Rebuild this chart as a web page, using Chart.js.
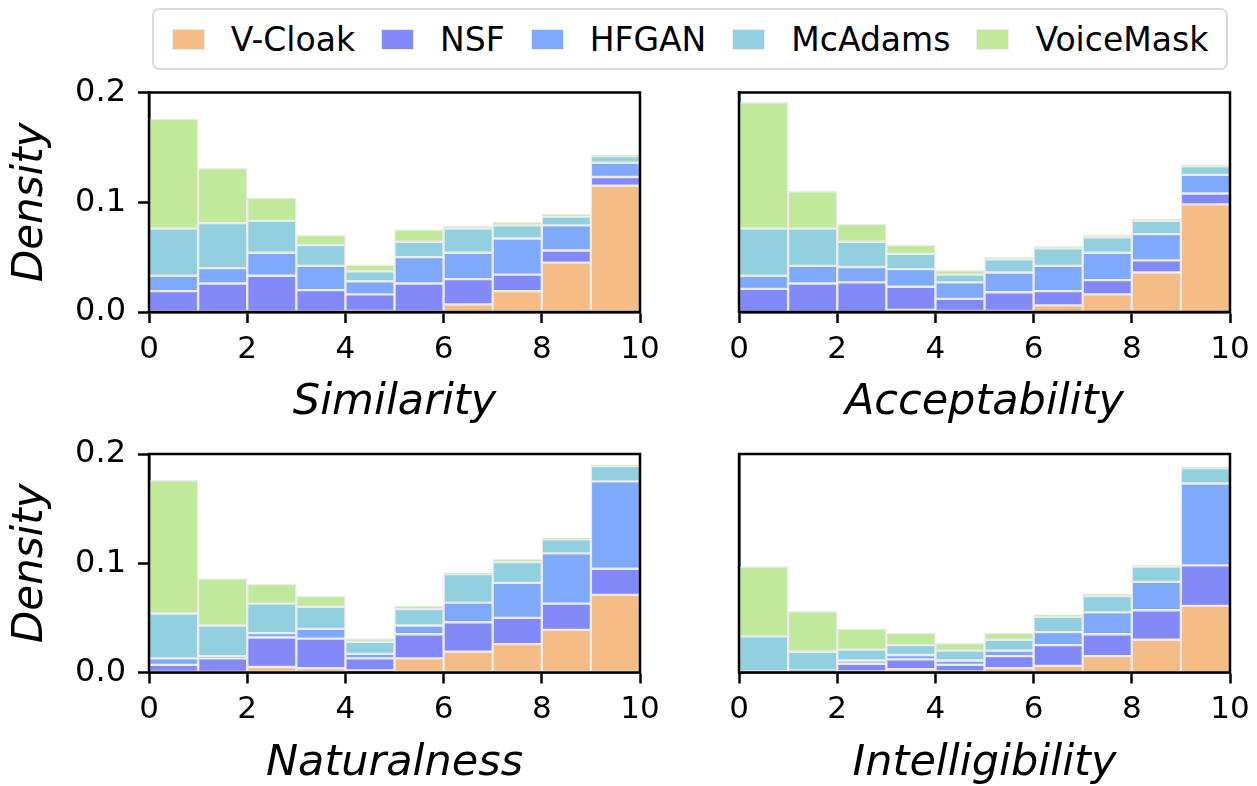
<!DOCTYPE html>
<html>
<head>
<meta charset="utf-8">
<script src="https://cdn.jsdelivr.net/npm/chart.js@4.4.1/dist/chart.umd.min.js"></script>
<style>
  html, body { margin: 0; padding: 0; background: #ffffff; }
  #page { position: relative; width: 1257px; height: 786px; overflow: hidden; background: #ffffff; }
  #page canvas { position: absolute; left: 0; top: 0; }
  #legend {
    position: absolute; left: 152px; top: 8px; width: 1072px; height: 58px;
    border: 2px solid #dcdcdc; border-radius: 7px; box-sizing: content-box;
    display: flex; align-items: center; justify-content: center;
    font-family: "DejaVu Sans", sans-serif; font-size: 33px; color: #000;
  }
  .item { display: flex; align-items: center; margin: 0 13px; }
  .swatch { width: 31px; height: 19px; border: 1.5px solid #ebebeb; margin-right: 26px; }
</style>
</head>
<body>
<div id="page">
  <div id="legend"></div>
</div>
<script>
// Histogram bins (score 0..10, width 1)
const binEdges = [0, 1, 2, 3, 4, 5, 6, 7, 8, 9, 10];
const xTicks = [0, 2, 4, 6, 8, 10];
const yTicks = [0.0, 0.1, 0.2];

const seriesNames = ['V-Cloak', 'NSF', 'HFGAN', 'McAdams', 'VoiceMask'];
const seriesColors = ['#f5bc86', '#8489f9', '#7faafb', '#92d0e0', '#c1e99c'];

// Stacked densities per bin, one row per series (in seriesNames order)
const similarity = [
  [0.000, 0.000, 0.000, 0.000, 0.001, 0.000, 0.007, 0.019, 0.045, 0.115],
  [0.019, 0.026, 0.033, 0.020, 0.015, 0.026, 0.023, 0.015, 0.011, 0.008],
  [0.014, 0.014, 0.021, 0.022, 0.012, 0.024, 0.024, 0.033, 0.023, 0.013],
  [0.043, 0.041, 0.029, 0.019, 0.009, 0.014, 0.022, 0.012, 0.008, 0.006],
  [0.100, 0.050, 0.021, 0.009, 0.006, 0.011, 0.002, 0.003, 0.002, 0.001]
];
const acceptability = [
  [0.000, 0.000, 0.000, 0.002, 0.001, 0.001, 0.006, 0.016, 0.036, 0.098],
  [0.021, 0.026, 0.027, 0.021, 0.011, 0.017, 0.013, 0.013, 0.011, 0.010],
  [0.012, 0.016, 0.014, 0.016, 0.015, 0.018, 0.023, 0.025, 0.024, 0.017],
  [0.043, 0.034, 0.023, 0.014, 0.007, 0.012, 0.016, 0.014, 0.012, 0.008],
  [0.115, 0.034, 0.016, 0.008, 0.004, 0.002, 0.002, 0.002, 0.002, 0.001]
];
const naturalness = [
  [0.000, 0.000, 0.005, 0.004, 0.002, 0.013, 0.019, 0.026, 0.039, 0.071],
  [0.007, 0.013, 0.027, 0.027, 0.011, 0.022, 0.027, 0.024, 0.024, 0.024],
  [0.006, 0.002, 0.004, 0.009, 0.004, 0.008, 0.018, 0.032, 0.046, 0.080],
  [0.041, 0.028, 0.027, 0.020, 0.011, 0.015, 0.026, 0.019, 0.013, 0.014],
  [0.122, 0.043, 0.018, 0.010, 0.003, 0.003, 0.001, 0.003, 0.001, 0.001]
];
const intelligibility = [
  [0.000, 0.000, 0.001, 0.003, 0.001, 0.004, 0.006, 0.015, 0.030, 0.061],
  [0.001, 0.001, 0.007, 0.009, 0.006, 0.011, 0.019, 0.020, 0.027, 0.037],
  [0.000, 0.001, 0.003, 0.004, 0.004, 0.005, 0.012, 0.020, 0.026, 0.075],
  [0.032, 0.017, 0.010, 0.009, 0.009, 0.010, 0.014, 0.015, 0.014, 0.014],
  [0.064, 0.037, 0.019, 0.011, 0.007, 0.006, 0.002, 0.002, 0.001, 0.001]
];

const W = 1257, H = 786;
Chart.defaults.font.family = '"DejaVu Sans", sans-serif';
Chart.defaults.color = '#000';

// Legend row
const legendEl = document.getElementById('legend');
seriesNames.forEach((name, i) => {
  const item = document.createElement('div');
  item.className = 'item';
  const sw = document.createElement('div');
  sw.className = 'swatch';
  sw.style.background = seriesColors[i];
  const label = document.createElement('span');
  label.textContent = name;
  item.appendChild(sw);
  item.appendChild(label);
  legendEl.appendChild(item);
});

// Black frame around the plotting area
const framePlugin = {
  id: 'frame',
  afterDraw(chart) {
    const a = chart.chartArea, ctx = chart.ctx;
    ctx.save();
    ctx.strokeStyle = '#000';
    ctx.lineWidth = 2.5;
    ctx.strokeRect(a.left, a.top, a.right - a.left, a.bottom - a.top);
    ctx.restore();
  }
};

function panel(rows, xTitle, area, showY) {
  const canvas = document.createElement('canvas');
  canvas.width = W; canvas.height = H;
  document.getElementById('page').appendChild(canvas);

  const yWidth = showY ? area.left : 10;
  const xHeight = area.xHeight;
  const datasets = seriesNames.map((name, s) => ({
    label: name,
    data: rows[s].map((v, b) => ({ x: (binEdges[b] + binEdges[b + 1]) / 2, y: v })),
    backgroundColor: seriesColors[s],
    borderColor: '#ebebeb',
    borderWidth: 1.5,
    borderSkipped: false,
    barPercentage: 1,
    categoryPercentage: 1
  }));

  new Chart(canvas, {
    type: 'bar',
    data: { datasets },
    options: {
      responsive: false,
      animation: false,
      devicePixelRatio: 1,
      layout: {
        padding: {
          left: area.left - yWidth,
          top: area.top,
          right: W - area.right,
          bottom: H - area.bottom - xHeight
        }
      },
      plugins: { legend: { display: false }, tooltip: { enabled: false } },
      scales: {
        x: {
          type: 'linear', stacked: true, min: binEdges[0], max: binEdges[binEdges.length - 1],
          offset: false,
          afterBuildTicks(scale) { scale.ticks = xTicks.map(v => ({ value: v })); },
          afterFit(scale) { scale.height = xHeight; scale.paddingLeft = 0; scale.paddingRight = 0; },
          ticks: { font: { size: 31 }, padding: 8, maxRotation: 0, autoSkip: false, color: '#000' },
          grid: { display: true, offset: false, drawOnChartArea: false, drawTicks: true, tickLength: 11, tickWidth: 2.5, tickColor: '#000' },
          border: { display: true, color: '#000', width: 2.5 },
          title: { display: true, text: xTitle, font: { size: 43, style: 'italic', lineHeight: 1.0 }, padding: 0, color: '#000' }
        },
        y: {
          stacked: true, min: yTicks[0], max: yTicks[yTicks.length - 1],
          afterBuildTicks(scale) { scale.ticks = yTicks.map(v => ({ value: v })); },
          afterFit(scale) { scale.width = yWidth; scale.paddingTop = 0; scale.paddingBottom = 0; },
          ticks: { display: showY, font: { size: 32 }, padding: 12, color: '#000', callback: v => v.toFixed(1) },
          grid: { display: showY, drawOnChartArea: false, drawTicks: true, tickLength: 11, tickWidth: 2.5, tickColor: '#000' },
          border: { display: true, color: '#000', width: 2.5 },
          title: { display: showY, text: 'Density', font: { size: 42, style: 'italic', lineHeight: 1.0 }, padding: { top: 10, bottom: 0 }, color: '#000' }
        }
      }
    },
    plugins: [framePlugin]
  });
}

panel(similarity, 'Similarity', { left: 149, right: 640, top: 92.5, bottom: 312, xHeight: 112 }, true);
panel(acceptability, 'Acceptability', { left: 739, right: 1230, top: 92.5, bottom: 312, xHeight: 112 }, false);
panel(naturalness, 'Naturalness', { left: 149, right: 640, top: 454, bottom: 672.5, xHeight: 113 }, true);
panel(intelligibility, 'Intelligibility', { left: 739, right: 1230, top: 454, bottom: 672.5, xHeight: 113 }, false);
</script>
</body>
</html>
